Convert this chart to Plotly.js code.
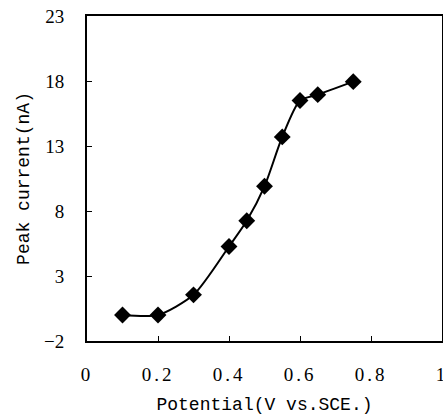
<!DOCTYPE html>
<html>
<head>
<meta charset="utf-8">
<script src="https://cdn.plot.ly/plotly-3.0.1.min.js"></script>
<style>
html,body{margin:0;padding:0;background:#fff;}
.xtick text{letter-spacing:3px;}
</style>
</head>
<body>
<div id="chart" style="width:443px;height:420px;"></div>
<script>
var potential = [0.1, 0.2, 0.3, 0.4, 0.45, 0.5, 0.55, 0.6, 0.65, 0.75];
var peakCurrent = [0.0, 0.0, 1.55, 5.27, 7.25, 9.9, 13.7, 16.5, 16.95, 17.95];
var xTickVals = [0, 0.2, 0.4, 0.6, 0.8, 1];
var xTickText = ['0', '0.2', '0.4', '0.6', '0.8', '1'];
var yTickVals = [-2, 3, 8, 13, 18, 23];
var yTickText = ['\u22122', '3', '8', '13', '18', '23'];

var monoFont = {family: 'Liberation Mono, monospace', size: 18, color: '#000'};
var serifFont = {family: 'Liberation Serif, serif', size: 19, color: '#000'};

var trace = {
  x: potential,
  y: peakCurrent,
  mode: 'lines+markers',
  type: 'scatter',
  line: {color: '#000', width: 2, shape: 'spline', smoothing: 0.7},
  marker: {symbol: 'diamond', size: 13, color: '#000'},
  showlegend: false
};

var layout = {
  width: 443,
  height: 420,
  margin: {l: 87, r: 1, t: 16, b: 79},
  paper_bgcolor: '#fff',
  plot_bgcolor: '#fff',
  xaxis: {
    range: [0, 1],
    tickmode: 'array',
    tickvals: xTickVals,
    ticktext: xTickText,
    ticks: 'inside',
    ticklen: 5,
    tickwidth: 1,
    tickcolor: '#000',
    showline: true,
    linecolor: '#000',
    linewidth: 2,
    mirror: true,
    showgrid: false,
    zeroline: false,
    tickfont: serifFont,
    ticklabelstandoff: 15,
    ticklabeloverflow: 'allow',
    title: {text: 'Potential(V vs.SCE.)', font: monoFont, standoff: 14}
  },
  yaxis: {
    range: [-2, 23],
    tickmode: 'array',
    tickvals: yTickVals,
    ticktext: yTickText,
    ticks: 'inside',
    ticklen: 5,
    tickwidth: 1,
    tickcolor: '#000',
    showline: true,
    linecolor: '#000',
    linewidth: 2,
    mirror: true,
    showgrid: false,
    zeroline: false,
    tickfont: serifFont,
    ticklabelstandoff: 17,
    title: {text: 'Peak current(nA)', font: monoFont, standoff: 10}
  }
};

Plotly.newPlot('chart', [trace], layout, {displayModeBar: false, staticPlot: true});
</script>
</body>
</html>
